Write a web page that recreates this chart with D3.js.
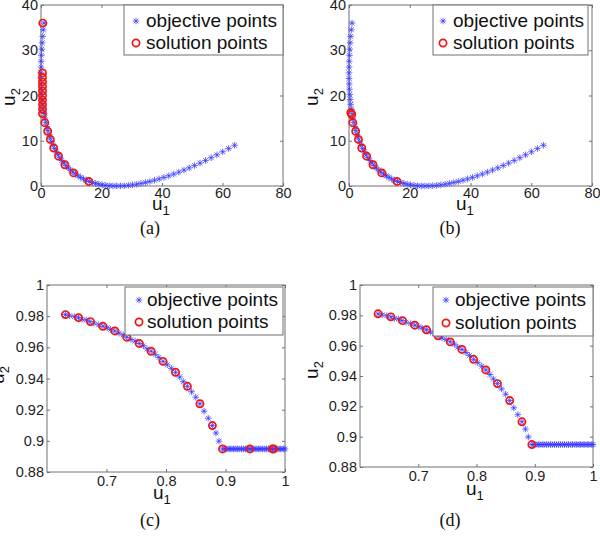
<!DOCTYPE html>
<html><head><meta charset="utf-8">
<script src="https://cdn.jsdelivr.net/npm/d3@7"></script>
<style>body{margin:0;background:#fff}svg{display:block}</style>
</head><body><svg id="c" width="600" height="543"></svg>
<script>
// ---------- data ----------
// panels (a),(b): objective points
const objU1 = [1,0.77,0.56,0.39,0.25,0.14,0.06,0.02,0,0.02,0.06,0.14,0.25,0.39,0.56,0.77,1,1.27,1.56,1.89,2.25,2.64,3.06,3.52,4,4.52,5.06,5.64,6.25,6.89,7.56,8.27,9,9.77,10.56,11.39,12.25,13.14,14.06,15.02,16,17.02,18.06,19.14,20.25,21.39,22.56,23.77,25,26.27,27.56,28.89,30.25,31.64,33.06,34.52,36,37.52,39.06,40.64,42.25,43.89,45.56,47.27,49,50.77,52.56,54.39,56.25,58.14,60.06,62.02,64];
const objU2 = [36,34.52,33.06,31.64,30.25,28.89,27.56,26.27,25,23.77,22.56,21.39,20.25,19.14,18.06,17.02,16,15.02,14.06,13.14,12.25,11.39,10.56,9.77,9,8.27,7.56,6.89,6.25,5.64,5.06,4.52,4,3.52,3.06,2.64,2.25,1.89,1.56,1.27,1,0.77,0.56,0.39,0.25,0.14,0.06,0.02,0,0.02,0.06,0.14,0.25,0.39,0.56,0.77,1,1.27,1.56,1.89,2.25,2.64,3.06,3.52,4,4.52,5.06,5.64,6.25,6.89,7.56,8.27,9];
// solution points
const solAu1 = [0.6,0.5,0.5,0.5,0.5,0.5,0.5,0.5,0.5,0.5,0.5,1.25,2.2,3.1,4.2,5.8,7.9,10.8,15.8];
const solAu2 = [36,25,24,23,22,21,20,19,18,17,16,14.0,12.1,10.3,8.4,6.6,4.7,2.9,1.0];
const solBu1 = [0.6,0.9,1.25,2.2,3.1,4.2,5.8,7.9,10.8,15.8];
const solBu2 = [16.2,15.8,14.0,12.1,10.3,8.4,6.6,4.7,2.9,1.0];
// panels (c),(d): objective points
const objCu1 = [0.631,0.638,0.646,0.653,0.659,0.666,0.672,0.679,0.687,0.694,0.701,0.707,0.714,0.721,0.728,0.734,0.741,0.748,0.755,0.762,0.768,0.775,0.782,0.788,0.795,0.802,0.809,0.816,0.823,0.829,0.836,0.843,0.850,0.857,0.864,0.871,0.878,0.884,0.889,0.895,
  0.899,0.902,0.906,0.909,0.913,0.916,0.920,0.923,0.927,0.930,0.934,0.937,0.941,0.944,0.948,0.951,0.955,0.958,0.962,0.965,0.969,0.972,0.976,0.979,0.983,0.986,0.990,0.993,0.997,1.0];
const objCu2 = [0.981,0.9803,0.9797,0.979,0.978,0.9775,0.9765,0.9755,0.9745,0.9735,0.9725,0.9715,0.9705,0.969,0.968,0.9665,0.965,0.964,0.9625,0.961,0.959,0.9575,0.9555,0.9535,0.951,0.9488,0.9465,0.944,0.941,0.938,0.935,0.9315,0.928,0.9238,0.919,0.9145,0.9098,0.905,0.8998,0.8948,
  0.8948,0.8948,0.8948,0.8948,0.8948,0.8948,0.8948,0.8948,0.8948,0.8948,0.8948,0.8948,0.8948,0.8948,0.8948,0.8948,0.8948,0.8948,0.8948,0.8948,0.8948,0.8948,0.8948,0.8948,0.8948,0.8948,0.8948,0.8948,0.8948,0.8948];
const solCu1 = [0.631,0.653,0.673,0.694,0.714,0.734,0.755,0.775,0.795,0.816,0.836,0.857,0.878,0.895,0.941,0.979,0.981];
const solCu2 = [0.981,0.979,0.9765,0.9735,0.9705,0.9665,0.9625,0.9575,0.951,0.944,0.935,0.9238,0.9098,0.8948,0.8948,0.8948,0.8948];
const solDu1 = [0.631,0.653,0.673,0.694,0.714,0.734,0.755,0.775,0.795,0.816,0.836,0.857,0.878,0.895];
const solDu2 = [0.981,0.979,0.9765,0.9735,0.9705,0.9665,0.9625,0.9575,0.951,0.944,0.935,0.9238,0.9098,0.8948];
// ticks
const xTicksAB = [0,20,40,60,80], xLabelsAB = ["0","20","40","60","80"];
const yTicksAB = [0,10,20,30,40], yLabelsAB = ["0","10","20","30","40"];
const xTicksCD = [0.7,0.8,0.9,1], xLabelsCD = ["0.7","0.8","0.9","1"];
const yTicksCD = [0.88,0.9,0.92,0.94,0.96,0.98,1], yLabelsCD = ["0.88","0.9","0.92","0.94","0.96","0.98","1"];
const legendNames = ["objective points","solution points"];
const captions = ["(a)","(b)","(c)","(d)"];

// ---------- drawing ----------
const svg = d3.select("#c");
const AX = "#707070", STAR = "#3535ff", RED = "#f01515";
const starPath = "M-3.3,0L3.3,0M0,-3.3L0,3.3M-2.4,-2.4L2.4,2.4M-2.4,2.4L2.4,-2.4";
const zip = (a,b) => a.map((v,i)=>[v,b[i]]);

function panel(o){
  const g = svg.append("g");
  const x = d3.scaleLinear().domain(o.xd).range([o.l,o.r]);
  const y = d3.scaleLinear().domain(o.yd).range([o.b,o.t]);
  const font = "Liberation Sans, Arial, sans-serif";
  const ax = (sel, gen) => {
    sel.call(gen);
    sel.select(".domain").remove();
    sel.selectAll(".tick line").attr("stroke",AX);
    sel.selectAll("text").attr("font-family",font).attr("font-size",14.5).attr("fill","#1e1e1e");
  };
  ax(g.append("g").attr("transform",`translate(0,${o.b})`),
     d3.axisBottom(x).tickValues(o.xt).tickFormat((d,i)=>o.xl[i]).tickSizeInner(-3).tickSizeOuter(0).tickPadding(o.xpad));
  ax(g.append("g").attr("transform",`translate(0,${o.t})`),
     d3.axisTop(x).tickValues(o.xt).tickFormat("").tickSizeInner(-3).tickSizeOuter(0));
  ax(g.append("g").attr("transform",`translate(${o.l},0)`),
     d3.axisLeft(y).tickValues(o.yt).tickFormat((d,i)=>o.yl[i]).tickSizeInner(-3).tickSizeOuter(0).tickPadding(3));
  ax(g.append("g").attr("transform",`translate(${o.r},0)`),
     d3.axisRight(y).tickValues(o.yt).tickFormat("").tickSizeInner(-3).tickSizeOuter(0));
  g.append("rect").attr("x",o.l).attr("y",o.t).attr("width",o.r-o.l).attr("height",o.b-o.t)
    .attr("fill","none").attr("stroke",AX).attr("stroke-width",1);

  g.append("g").selectAll("path").data(zip(o.ou1,o.ou2)).join("path")
    .attr("d",starPath).attr("transform",d=>`translate(${x(d[0])},${y(d[1])})`)
    .attr("stroke",STAR).attr("stroke-width",0.75).attr("fill","none");
  g.append("g").selectAll("circle").data(zip(o.su1,o.su2)).join("circle")
    .attr("cx",d=>x(d[0])).attr("cy",d=>y(d[1])).attr("r",3.6)
    .attr("stroke",RED).attr("stroke-width",1.7).attr("fill","none");

  // legend
  const L = o.leg;
  g.append("rect").attr("x",L.l).attr("y",L.t).attr("width",L.r-L.l).attr("height",L.b-L.t)
    .attr("fill","#fff").attr("stroke",AX);
  g.append("path").attr("d",starPath).attr("transform",`translate(${L.mx},${L.y1-6})`)
    .attr("stroke",STAR).attr("stroke-width",0.75).attr("fill","none");
  g.append("circle").attr("cx",L.mx).attr("cy",L.y2-6).attr("r",3.6)
    .attr("stroke",RED).attr("stroke-width",1.7).attr("fill","none");
  [L.y1,L.y2].forEach((yy,i)=>g.append("text").attr("x",L.tx).attr("y",yy)
    .attr("font-family",font).attr("font-size",19).attr("fill","#111").text(legendNames[i]));

  // axis labels
  const xl = g.append("text").attr("x",o.xlab[0]).attr("y",o.xlab[1])
    .attr("font-family",font).attr("font-size",19).attr("fill","#111");
  xl.append("tspan").text("u");
  xl.append("tspan").attr("dy",5).attr("font-size",13).text("1");
  const yl = g.append("text").attr("transform",`translate(${o.ylab[0]},${o.ylab[1]}) rotate(-90)`)
    .attr("text-anchor","middle").attr("font-family",font).attr("font-size",19).attr("fill","#111");
  yl.append("tspan").text("u");
  yl.append("tspan").attr("dy",5).attr("font-size",13).text("2");

  g.append("text").attr("x",o.cap[0]).attr("y",o.cap[1]).attr("text-anchor","middle")
    .attr("font-family","Liberation Serif, Times New Roman, serif").attr("font-size",18).attr("fill","#111").text(o.capText);
}

panel({l:41,t:5,r:283,b:186,xd:[0,80],yd:[0,40],xt:xTicksAB,xl:xLabelsAB,yt:yTicksAB,yl:yLabelsAB,xpad:2,
  ou1:objU1,ou2:objU2,su1:solAu1,su2:solAu2,
  leg:{l:124,t:5,r:283,b:55,mx:136,tx:146,y1:27,y2:49},
  xlab:[152,210],ylab:[15,97],cap:[150,234],capText:captions[0]});
panel({l:349,t:5,r:592,b:186,xd:[0,80],yd:[0,40],xt:xTicksAB,xl:xLabelsAB,yt:yTicksAB,yl:yLabelsAB,xpad:2,
  ou1:objU1,ou2:objU2,su1:solBu1,su2:solBu2,
  leg:{l:433,t:5,r:588,b:55,mx:443,tx:453,y1:27,y2:49},
  xlab:[456,210],ylab:[318,97],cap:[450,234],capText:captions[1]});
panel({l:47,t:285,r:285,b:472,xd:[0.6,1],yd:[0.88,1],xt:xTicksCD,xl:xLabelsCD,yt:yTicksCD,yl:yLabelsCD,xpad:4,
  ou1:objCu1,ou2:objCu2,su1:solCu1,su2:solCu2,
  leg:{l:125,t:287,r:283,b:335,mx:139,tx:147,y1:306,y2:328},
  xlab:[153,499],ylab:[4,375],cap:[150,526],capText:captions[2]});
panel({l:360,t:285,r:593,b:467,xd:[0.6,1],yd:[0.88,1],xt:xTicksCD,xl:xLabelsCD,yt:yTicksCD,yl:yLabelsCD,xpad:4,
  ou1:objCu1,ou2:objCu2,su1:solDu1,su2:solDu2,
  leg:{l:433,t:287,r:593,b:336,mx:446,tx:455,y1:306,y2:329},
  xlab:[466,495],ylab:[318,370],cap:[450,526],capText:captions[3]});
</script></body></html>
